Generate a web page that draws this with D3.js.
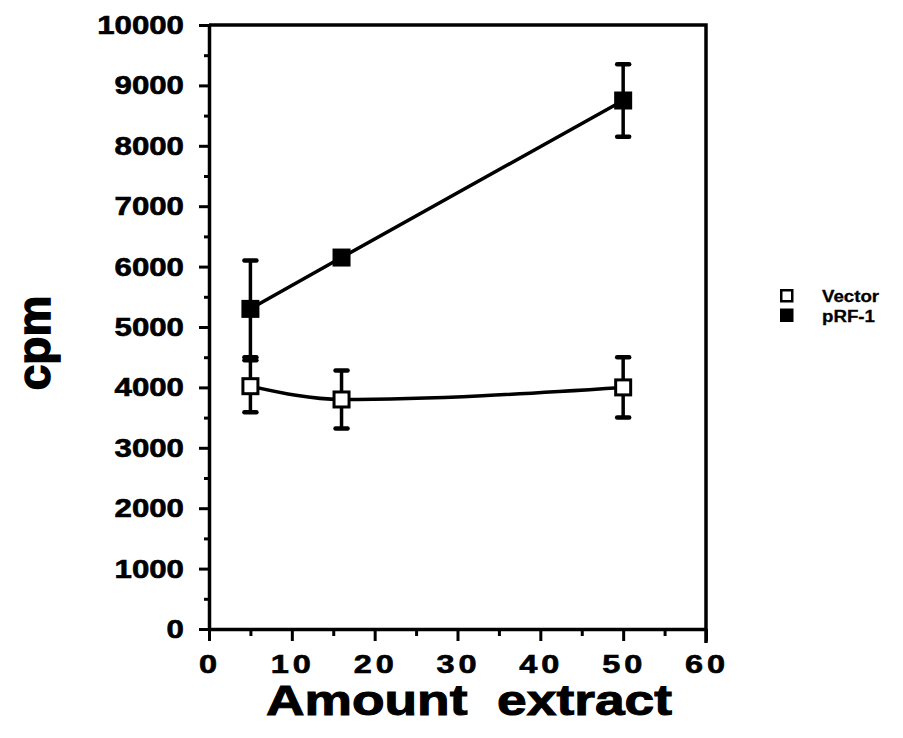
<!DOCTYPE html>
<html>
<head>
<meta charset="utf-8">
<script src="https://cdn.jsdelivr.net/npm/d3@7"></script>
<style>
  body { margin: 0; background: #fff; }
  text { font-family: "Liberation Sans", Arial, sans-serif; font-weight: bold; fill: #000; stroke: #000; stroke-width: 0.6px; }
  .axis path, .axis line { stroke: #000; }
</style>
</head>
<body>
<div id="chart"></div>
<script>
// data
var amounts = [5, 16, 50];
var vectorCpm = [4020, 3800, 4000];
var vectorErr = [430, 480, 500];
var prfCpm = [5300, 6150, 8750];
var prfErr = [800, 0, 600];

var seriesNames = ["Vector", "pRF-1"];
var xTicks = [0, 10, 20, 30, 40, 50, 60];
var xMinorTicks = [5, 15, 25, 35, 45, 55];
var yTicks = [0, 1000, 2000, 3000, 4000, 5000, 6000, 7000, 8000, 9000, 10000];
var yMinorTicks = [500, 1500, 2500, 3500, 4500, 5500, 6500, 7500, 8500, 9500];

var width = 903, height = 738;
var stretch = 1.25; // the scan is wider than tall

var svg = d3.select("#chart").append("svg")
    .attr("width", width)
    .attr("height", height)
    .style("background-color", "#fff");

// scales
var x = d3.scaleLinear().domain([0, 60]).range([209, 706]);
var y = d3.scaleLinear().domain([0, 10000]).range([629, 25]);

// frame (top and right)
svg.append("path")
    .attr("d", "M" + x(0) + "," + y(10000) + "H" + x(60) + "V" + (y(0) + 14))
    .attr("fill", "none")
    .attr("stroke", "#000")
    .attr("stroke-width", 3.5);

// x axis - major then minor ticks
svg.append("g")
    .attr("class", "axis")
    .attr("transform", "translate(0," + y(0) + ")")
    .call(d3.axisBottom(x).tickValues(xTicks).tickSize(12).tickSizeOuter(0).tickFormat(""))
    .call(function(g) {
      g.select(".domain").attr("stroke-width", 3.5);
      g.selectAll(".tick line").attr("stroke-width", 3);
    });

svg.append("g")
    .attr("class", "axis")
    .attr("transform", "translate(0," + y(0) + ")")
    .call(d3.axisBottom(x).tickValues(xMinorTicks).tickSize(7).tickSizeOuter(0).tickFormat(""))
    .call(function(g) {
      g.select(".domain").remove();
      g.selectAll(".tick line").attr("stroke-width", 3);
    });

// y axis
svg.append("g")
    .attr("class", "axis")
    .attr("transform", "translate(" + x(0) + ",0)")
    .call(d3.axisLeft(y).tickValues(yTicks).tickSize(10).tickSizeOuter(0).tickFormat(""))
    .call(function(g) {
      g.select(".domain").attr("stroke-width", 3.5);
      g.selectAll(".tick line").attr("stroke-width", 3);
    });

svg.append("g")
    .attr("class", "axis")
    .attr("transform", "translate(" + x(0) + ",0)")
    .call(d3.axisLeft(y).tickValues(yMinorTicks).tickSize(5).tickSizeOuter(0).tickFormat(""))
    .call(function(g) {
      g.select(".domain").remove();
      g.selectAll(".tick line").attr("stroke-width", 3);
    });

// tick labels
svg.selectAll(".y-label")
    .data(yTicks)
  .enter().append("text")
    .attr("class", "y-label")
    .attr("transform", function(d) { return "translate(184," + y(d) + ") scale(" + stretch + ",1)"; })
    .attr("dy", "0.36em")
    .attr("text-anchor", "end")
    .style("font-size", "25px")
    .text(function(d) { return d; });

svg.selectAll(".x-label")
    .data(xTicks)
  .enter().append("text")
    .attr("class", "x-label")
    .attr("transform", function(d) { return "translate(" + (x(d) + 1) + ",673) scale(1.3,1)"; })
    .attr("text-anchor", "middle")
    .style("font-size", "25px")
    .style("letter-spacing", "3px")
    .text(function(d) { return d; });

// axis titles
svg.append("text")
    .attr("transform", "translate(469,715) scale(1.27,1)")
    .attr("text-anchor", "middle")
    .style("font-size", "42px")
    .style("stroke-width", "1px")
    .style("white-space", "pre")
    .text("Amount  extract");

svg.append("text")
    .attr("x", -343)
    .attr("y", 50)
    .attr("transform", "rotate(-90)")
    .attr("text-anchor", "middle")
    .style("font-size", "46px")
    .style("stroke-width", "1.5px")
    .text("cpm");

// build rows for each series
function rows(vals, errs) {
  return amounts.map(function(a, i) { return {x: a, y: vals[i], e: errs[i]}; });
}
var vectorData = rows(vectorCpm, vectorErr);
var prfData = rows(prfCpm, prfErr);

// lines
var vectorLine = d3.line()
    .x(function(d) { return x(d.x); })
    .y(function(d) { return y(d.y); })
    .curve(d3.curveMonotoneX);

var prfLine = d3.line()
    .x(function(d) { return x(d.x); })
    .y(function(d) { return y(d.y); });

svg.append("path")
    .datum(vectorData)
    .attr("fill", "none")
    .attr("stroke", "#000")
    .attr("stroke-width", 3.5)
    .attr("d", vectorLine);

svg.append("path")
    .datum(prfData)
    .attr("fill", "none")
    .attr("stroke", "#000")
    .attr("stroke-width", 3.5)
    .attr("d", prfLine);

// error bars
function errorBars(data, cls) {
  var g = svg.selectAll("." + cls)
      .data(data.filter(function(d) { return d.e > 0; }))
    .enter().append("g")
      .attr("class", cls);

  g.append("line")
      .attr("x1", function(d) { return x(d.x); })
      .attr("x2", function(d) { return x(d.x); })
      .attr("y1", function(d) { return y(d.y + d.e); })
      .attr("y2", function(d) { return y(d.y - d.e); })
      .attr("stroke", "#000")
      .attr("stroke-width", 3.5);

  [1, -1].forEach(function(s) {
    g.append("line")
        .attr("x1", function(d) { return x(d.x) - 6; })
        .attr("x2", function(d) { return x(d.x) + 6; })
        .attr("y1", function(d) { return y(d.y + s * d.e); })
        .attr("y2", function(d) { return y(d.y + s * d.e); })
        .attr("stroke", "#000")
        .attr("stroke-width", 4.5)
        .attr("stroke-linecap", "round");
  });
}
errorBars(vectorData, "vector-err");
errorBars(prfData, "prf-err");

// markers
var ms = 18;
svg.selectAll(".vector-pt")
    .data(vectorData)
  .enter().append("rect")
    .attr("class", "vector-pt")
    .attr("x", function(d) { return x(d.x) - ms / 2 + 1.5; })
    .attr("y", function(d) { return y(d.y) - ms / 2 + 1.5; })
    .attr("width", ms - 3)
    .attr("height", ms - 3)
    .attr("fill", "#fff")
    .attr("stroke", "#000")
    .attr("stroke-width", 3);

svg.selectAll(".prf-pt")
    .data(prfData)
  .enter().append("rect")
    .attr("class", "prf-pt")
    .attr("x", function(d) { return x(d.x) - ms / 2; })
    .attr("y", function(d) { return y(d.y) - ms / 2; })
    .attr("width", ms)
    .attr("height", ms)
    .attr("fill", "#000");

// legend
var legend = svg.selectAll(".legend-item")
    .data(seriesNames)
  .enter().append("g")
    .attr("class", "legend-item")
    .attr("transform", function(d, i) { return "translate(780," + (289 + i * 19.5) + ")"; });

legend.append("rect")
    .attr("x", function(d, i) { return i === 0 ? 1.25 : 0; })
    .attr("y", function(d, i) { return i === 0 ? 1.25 : 0; })
    .attr("width", function(d, i) { return i === 0 ? 11 : 13.5; })
    .attr("height", function(d, i) { return i === 0 ? 11 : 13.5; })
    .attr("fill", function(d, i) { return i === 0 ? "#fff" : "#000"; })
    .attr("stroke", function(d, i) { return i === 0 ? "#000" : "none"; })
    .attr("stroke-width", 2.5);

legend.append("text")
    .attr("transform", "translate(42,13) scale(1.1,1)")
    .style("font-size", "17px")
    .style("stroke-width", "0.3px")
    .text(function(d) { return d; });
</script>
</body>
</html>
